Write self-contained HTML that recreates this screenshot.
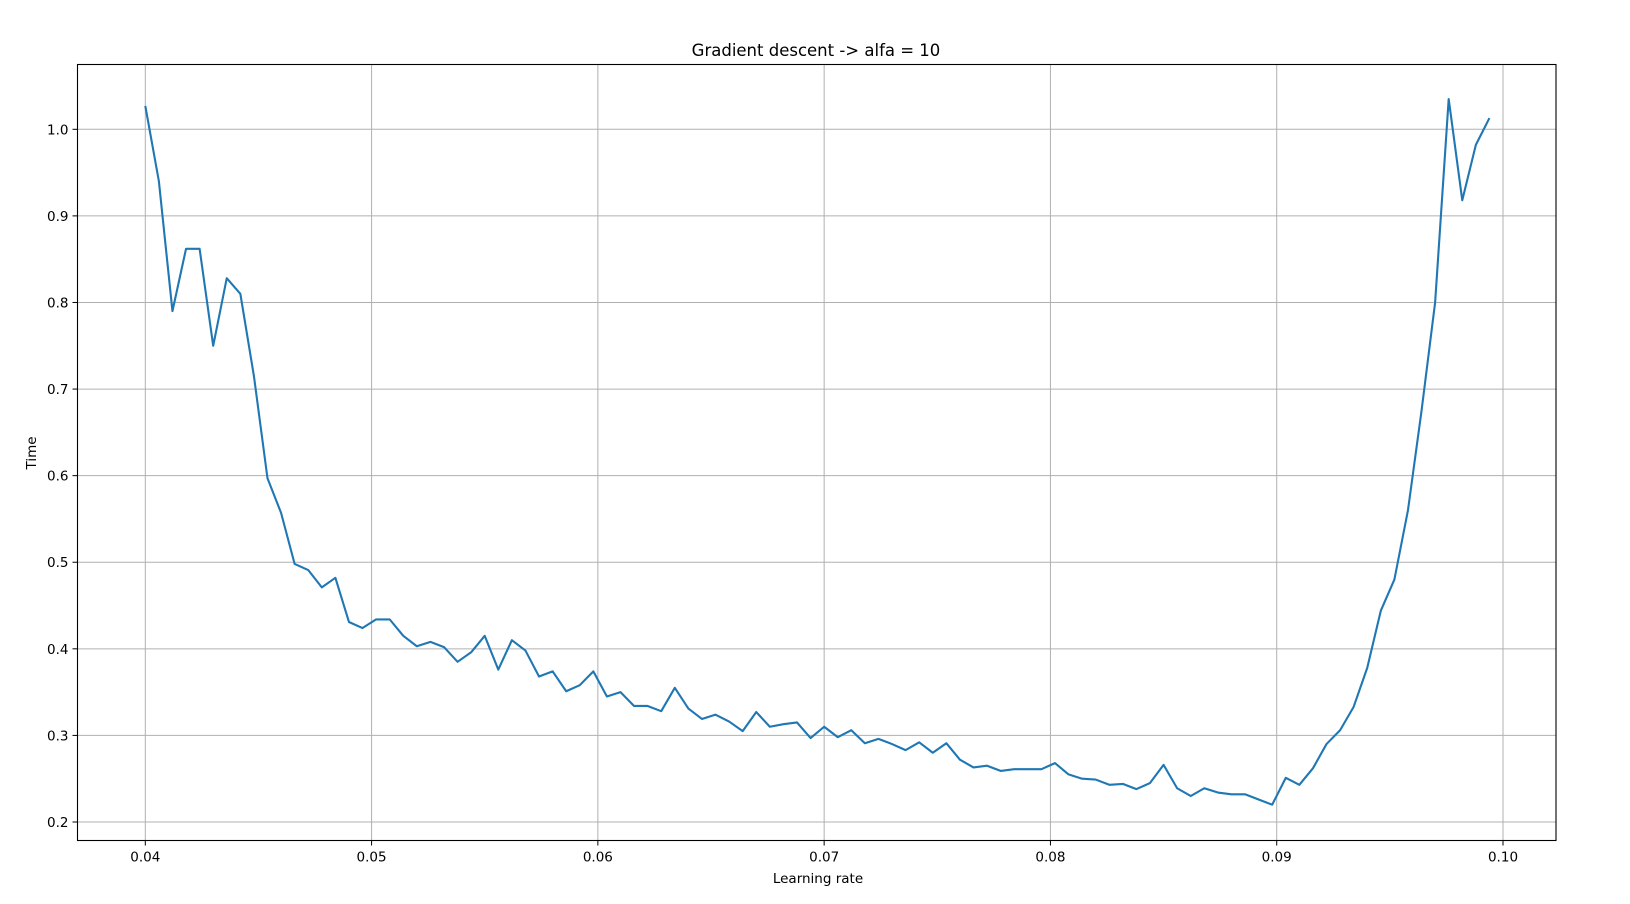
<!DOCTYPE html>
<html><head><meta charset="utf-8"><style>
body{margin:0;background:#fff;}
svg{display:block;font-family:"DejaVu Sans","Liberation Sans",sans-serif;}
</style></head><body>
<svg id="chart" width="1630" height="904">
<text x="816" y="56" text-anchor="middle" font-size="16.5">Gradient descent -&gt; alfa = 10</text>
<g id="grid"></g><g id="ticks"></g>
<polyline id="line" fill="none" stroke="#1f77b4" stroke-width="2.1" stroke-linejoin="round"/>
<rect x="77.5" y="64.5" width="1478.5" height="776" fill="none" stroke="#000" stroke-width="1.1"/>
<text x="818" y="883" text-anchor="middle" font-size="13.5">Learning rate</text>
<text transform="translate(36,453) rotate(-90)" text-anchor="middle" font-size="13.5">Time</text>
</svg>
<script>
const xStart = 0.04;
const xStep = 0.0006;
const yValues = [1.027,0.94,0.79,0.862,0.862,0.75,0.828,0.81,0.715,0.597,0.557,0.498,0.491,0.471,0.482,0.431,0.424,0.434,0.434,0.415,
0.403,0.408,0.402,0.385,0.396,0.415,0.376,0.41,0.398,0.368,0.374,0.351,0.358,0.374,0.345,0.35,0.334,0.334,0.328,0.355,
0.331,0.319,0.324,0.316,0.305,0.327,0.31,0.313,0.315,0.297,0.31,0.298,0.306,0.291,0.296,0.29,0.283,0.292,0.28,0.291,
0.272,0.263,0.265,0.259,0.261,0.261,0.261,0.268,0.255,0.25,0.249,0.243,0.244,0.238,0.245,0.266,0.239,0.23,0.239,0.234,
0.232,0.232,0.226,0.22,0.251,0.243,0.262,0.29,0.306,0.333,0.378,0.444,0.48,0.56,0.675,0.80,1.035,0.918,0.982,1.013];
const xTicks = [0.04,0.05,0.06,0.07,0.08,0.09,0.10];
const xTickLabels = ["0.04","0.05","0.06","0.07","0.08","0.09","0.10"];
const yTicks = [0.2,0.3,0.4,0.5,0.6,0.7,0.8,0.9,1.0];
const yTickLabels = ["0.2","0.3","0.4","0.5","0.6","0.7","0.8","0.9","1.0"];

const L=77.5,R=1556,T=64.5,B=840.5;
function xs(v){return 145.3+(v-0.04)*(1503-145.3)/0.06;}
function ys(v){return 822-(v-0.2)*(822-129.3)/0.8;}
const NS="http://www.w3.org/2000/svg";
const grid=document.getElementById('grid'), ticks=document.getElementById('ticks');
function mk(tag,attrs,parent){const e=document.createElementNS(NS,tag);for(const k in attrs)e.setAttribute(k,attrs[k]);parent.appendChild(e);return e;}
xTicks.forEach((v,i)=>{
  const x=xs(v);
  const g=mk('line',{x1:x,x2:x,y1:T,y2:B,stroke:'#b0b0b0','stroke-width':1},grid);
  
  
  const t=mk('line',{x1:x,x2:x,y1:B,y2:B+5,stroke:'#000','stroke-width':1},ticks);
  
  
  const lb=mk('text',{x:x,y:B+21,'text-anchor':'middle','font-size':13.5},ticks);
  lb.textContent=xTickLabels[i];
  
  
});
yTicks.forEach((v,i)=>{
  const y=ys(v);
  const g=mk('line',{x1:L,x2:R,y1:y,y2:y,stroke:'#b0b0b0','stroke-width':1},grid);
  
  
  const t=mk('line',{x1:L-5,x2:L,y1:y,y2:y,stroke:'#000','stroke-width':1},ticks);
  
  
  const lb=mk('text',{x:L-9,y:y+5,'text-anchor':'end','font-size':13.5},ticks);
  lb.textContent=yTickLabels[i];
  
  
});
document.getElementById('line').setAttribute('points',yValues.map((v,i)=>xs(xStart+i*xStep).toFixed(2)+','+ys(v).toFixed(2)).join(' '));
</script>
</body></html>
